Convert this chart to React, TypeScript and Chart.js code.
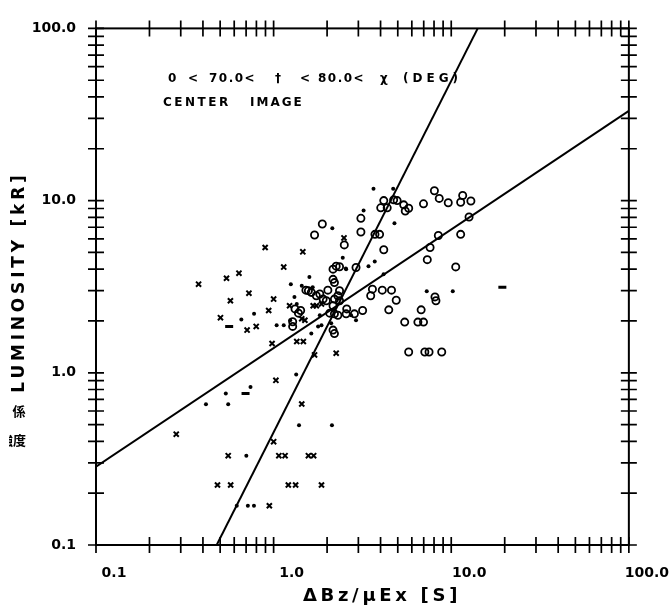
import React, { useEffect, useRef } from "react";
import { Chart, registerables } from "chart.js";

Chart.register(...registerables);

// ---- data (ΔBz/μEx [S], LUMINOSITY [kR]) ----
const circleX = [1.88, 1.70, 3.10, 3.10, 3.72, 3.95, 2.50, 4.17, 4.17, 4.74, 4.96, 4.01, 4.36, 5.40, 5.76, 5.51, 6.98, 8.04, 8.56, 9.62, 11.6, 11.3, 12.9, 12.6, 8.46, 11.3, 7.60, 7.33, 10.6, 2.91, 2.16, 2.20, 1.52, 2.02, 2.35, 2.30, 1.90, 1.98, 2.20, 3.60, 3.52, 4.09, 4.61, 4.90, 8.10, 8.20, 2.58, 2.56, 3.17, 4.45, 6.77, 5.47, 6.49, 6.98, 5.76, 7.10, 7.50, 8.84, 1.28, 1.28, 1.42, 2.20, 1.74, 1.82, 2.25, 2.35, 2.16, 1.57, 1.63, 2.35, 2.16, 2.07, 2.20, 2.30, 2.85, 1.32, 1.38, 2.16];
const circleY = [7.31, 6.31, 7.89, 6.57, 6.37, 6.37, 5.53, 5.18, 10.0, 10.1, 10.0, 9.08, 9.08, 9.45, 9.03, 8.70, 9.58, 11.4, 10.3, 9.71, 10.7, 9.78, 9.94, 8.03, 6.27, 6.37, 5.34, 4.54, 4.12, 4.09, 4.00, 3.34, 3.02, 3.02, 3.00, 2.80, 2.68, 2.62, 2.68, 3.06, 2.80, 3.02, 3.02, 2.64, 2.76, 2.62, 2.35, 2.20, 2.30, 2.32, 2.32, 1.97, 1.97, 1.97, 1.32, 1.32, 1.32, 1.32, 1.98, 1.86, 2.30, 1.69, 2.80, 2.87, 4.16, 4.13, 3.49, 3.00, 2.93, 2.62, 2.45, 2.22, 2.20, 2.16, 2.20, 2.35, 2.22, 1.77];

const crossX = [0.378, 0.896, 1.46, 0.543, 0.638, 1.14, 0.726, 0.571, 0.502, 0.709, 0.798, 0.938, 1.23, 0.980, 1.35, 1.47, 1.0, 2.49, 1.70, 2.25, 1.03, 1.44, 0.283, 1.0, 0.555, 1.07, 1.16, 1.57, 1.68, 0.483, 0.573, 1.21, 1.33, 1.86, 0.946, 1.67, 1.74, 1.44, 1.50, 1.86];
const crossY = [3.27, 5.34, 5.04, 3.54, 3.79, 4.11, 2.90, 2.62, 2.09, 1.77, 1.86, 2.30, 2.45, 1.48, 1.52, 1.52, 2.68, 6.07, 1.27, 1.30, 0.904, 0.659, 0.440, 0.398, 0.330, 0.330, 0.330, 0.330, 0.330, 0.223, 0.223, 0.223, 0.223, 0.223, 0.169, 2.45, 2.45, 2.06, 2.02, 2.51];

const dotX = [3.65, 4.71, 3.21, 4.79, 2.14, 2.45, 3.71, 3.42, 1.59, 1.25, 1.31, 0.776, 0.658, 1.04, 1.14, 1.63, 1.78, 4.16, 7.28, 10.2, 2.55, 2.91, 2.73, 1.66, 1.34, 0.741, 0.538, 0.416, 0.555, 1.39, 2.13, 0.702, 0.620, 0.716, 0.775, 2.56, 1.44, 1.35, 1.24, 1.82, 1.86, 2.11];
const dotY = [11.7, 11.7, 8.77, 7.39, 6.92, 4.66, 4.43, 4.16, 3.60, 3.27, 2.76, 2.20, 2.04, 1.89, 1.89, 1.69, 1.86, 3.73, 2.98, 2.98, 4.04, 2.02, 2.16, 3.14, 0.977, 0.828, 0.759, 0.656, 0.656, 0.496, 0.496, 0.330, 0.169, 0.169, 0.169, 4.00, 3.20, 2.51, 2.02, 2.16, 1.89, 1.94];

const dashX = [0.562, 0.695, 19.4];
const dashY = [1.86, 0.759, 3.14];

// fitted lines (end points on the frame)
const fitAX = [0.1, 100];
const fitAY = [0.285, 33.2];
const fitBX = [0.478, 14.1];
const fitBY = [0.1, 100];

// axes
const majorTicks = [0.1, 1, 10, 100];
const majorTickLabels = ["0.1", "1.0", "10.0", "100.0"];
const minorMultipliers = [2, 3, 4, 5, 6, 7, 8, 9];

const xTitle = "ΔBz/μEx [S]";
const yTitle = "LUMINOSITY [kR]";
const noteTokens = ["0", "<", "70.0<", "†", "<", "80.0<", "χ", "(DEG)"];
const noteLine2 = ["CENTER", "IMAGE"];

const zip = (xs: number[], ys: number[]) => xs.map((x, i) => ({ x, y: ys[i] }));

const tickValues: number[] = [];
majorTicks.forEach((m, i) => {
  tickValues.push(m);
  if (i < majorTicks.length - 1) minorMultipliers.forEach((k) => tickValues.push(+(m * k).toPrecision(6)));
});

const labelFor = (v: number) => {
  const i = majorTicks.findIndex((m) => Math.abs(m - v) / m < 1e-6);
  return i >= 0 ? majorTickLabels[i] : "";
};

const FONT = "'DejaVu Sans', sans-serif";

const framePlugin = {
  id: "frameTicks",
  afterDraw(chart: any) {
    const { ctx, chartArea: a, scales } = chart;
    ctx.save();
    ctx.strokeStyle = "#000";
    ctx.lineWidth = 2;
    ctx.strokeRect(a.left, a.top, a.right - a.left, a.bottom - a.top);
    ctx.lineWidth = 1.7;
    const L = 8;
    ctx.beginPath();
    for (const t of scales.x.ticks) {
      const px = scales.x.getPixelForValue(t.value);
      ctx.moveTo(px, a.bottom - L);
      ctx.lineTo(px, a.bottom + L);
      ctx.moveTo(px, a.top - L);
      ctx.lineTo(px, a.top + L);
    }
    for (const t of scales.y.ticks) {
      const py = scales.y.getPixelForValue(t.value);
      ctx.moveTo(a.left - L, py);
      ctx.lineTo(a.left + L, py);
      ctx.moveTo(a.right - L, py);
      ctx.lineTo(a.right + L, py);
    }
    ctx.stroke();
    ctx.restore();
  },
};

const textPlugin = {
  id: "texts",
  afterDraw(chart: any) {
    const ctx = chart.ctx as CanvasRenderingContext2D & { letterSpacing: string };
    const draw = (s: string, x: number, y: number, font: string, ls: number, align: CanvasTextAlign = "left") => {
      ctx.font = font;
      ctx.letterSpacing = ls + "px";
      ctx.textAlign = align;
      ctx.fillText(s, x, y);
    };
    ctx.save();
    ctx.fillStyle = "#000";
    ctx.textBaseline = "middle";
    const noteX = [168, 188, 209, 275, 300, 318, 380, 403];
    const noteFont = `bold 12px ${FONT}`;
    noteTokens.forEach((t, i) => draw(t, noteX[i], 79, noteFont, t === "(DEG)" ? 4 : 1.5));
    draw(noteLine2[0], 163, 103, noteFont, 2.5);
    draw(noteLine2[1], 250, 103, noteFont, 2);

    draw(xTitle, 382, 596, `bold 18px ${FONT}`, 3.7, "center");

    ctx.save();
    ctx.translate(20, 282);
    ctx.rotate(-Math.PI / 2);
    draw(yTitle, 0, 0, `bold 17px ${FONT}`, 3.8, "center");
    ctx.restore();

    const cjk = "bold 13px 'Noto Sans CJK JP'";
    draw("係", 19, 411, cjk, 0, "center");
    ctx.save();
    ctx.beginPath();
    ctx.rect(9, 420, 40, 40);
    ctx.clip();
    draw("強度", 26, 440, cjk, 0, "right");
    ctx.restore();
    ctx.restore();
  },
};

export default function App() {
  const ref = useRef<HTMLCanvasElement>(null);

  useEffect(() => {
    if (!ref.current) return;
    const lineStyle = {
      type: "line" as const,
      showLine: true,
      borderColor: "#000",
      borderWidth: 2,
      pointRadius: 0,
      fill: false,
      tension: 0,
    };
    const logAxis = (isX: boolean) => ({
      type: "logarithmic" as const,
      min: 0.1,
      max: 100,
      grid: { display: false, drawTicks: false },
      border: { display: false },
      afterBuildTicks: (scale: any) => {
        scale.ticks = tickValues.map((v) => ({ value: v, major: majorTicks.includes(v) }));
      },
      afterFit: (scale: any) => {
        if (isX) scale.height = 63;
        else scale.width = 96;
      },
      ticks: {
        autoSkip: false,
        maxRotation: 0,
        minRotation: 0,
        color: "#000",
        font: { family: FONT, size: 14, weight: "bold" as const },
        padding: 20,
        labelOffset: isX ? 18 : 0,
        callback: (v: any) => labelFor(Number(v)),
      },
    });

    const chart = new Chart(ref.current, {
      type: "scatter",
      data: {
        datasets: [
          { ...lineStyle, data: zip(fitAX, fitAY) },
          { ...lineStyle, data: zip(fitBX, fitBY) },
          {
            data: zip(circleX, circleY),
            pointStyle: "circle",
            pointRadius: 3.6,
            borderWidth: 1.8,
            borderColor: "#000",
            backgroundColor: "rgba(0,0,0,0)",
          },
          {
            data: zip(crossX, crossY),
            pointStyle: "crossRot",
            pointRadius: 3.6,
            borderWidth: 2,
            borderColor: "#000",
            backgroundColor: "#000",
          },
          {
            data: zip(dotX, dotY),
            pointStyle: "circle",
            pointRadius: 2,
            borderWidth: 0,
            backgroundColor: "#000",
          },
          {
            data: zip(dashX, dashY),
            pointStyle: "line",
            pointRadius: 4,
            borderWidth: 3,
            borderColor: "#000",
          },
        ],
      },
      options: {
        animation: false,
        responsive: false,
        devicePixelRatio: 1,
        layout: { padding: { top: 21, right: 36, left: 0, bottom: 0 } },
        plugins: { legend: { display: false }, tooltip: { enabled: false } },
        scales: { x: logAxis(true), y: logAxis(false) },
      },
      plugins: [framePlugin, textPlugin],
    });
    return () => chart.destroy();
  }, []);

  return (
    <div style={{ position: "absolute", left: 0, top: 0, width: 671, height: 608, background: "#fff" }}>
      <canvas ref={ref} width={671} height={608} style={{ display: "block" }} />
    </div>
  );
}
